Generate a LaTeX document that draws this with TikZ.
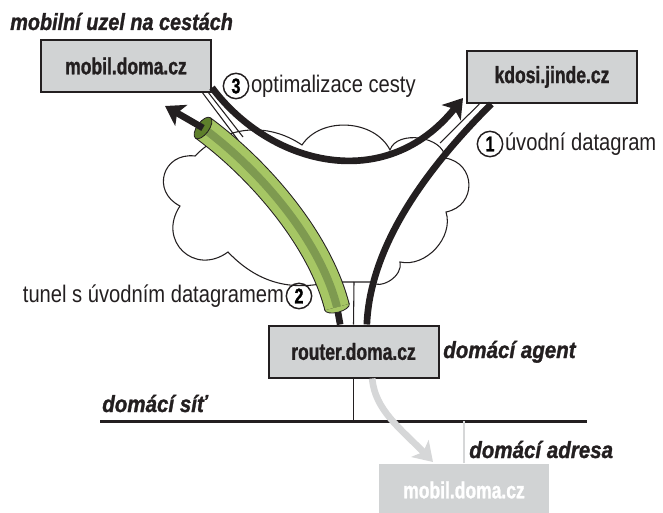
\documentclass[tikz,border=0pt]{standalone}
\usepackage{fontspec}
\setmainfont{Liberation Sans}
\newfontfamily\textcond[FakeStretch=0.84]{Liberation Sans}
\newfontfamily\hostcond[FakeStretch=0.75,FakeBold=1.2]{Liberation Sans}
\newfontfamily\titlecond[FakeStretch=0.85,FakeBold=1.2]{Liberation Sans}
\newfontfamily\labelcond[FakeStretch=0.88,FakeBold=1.2]{Liberation Sans}
\usetikzlibrary{positioning,arrows.meta,shapes.geometric}
\definecolor{boxgray}{HTML}{D1D3D4}
\definecolor{ink}{HTML}{231F20}
\definecolor{tubelight}{HTML}{A6C664}
\definecolor{tubedark}{HTML}{7E9A50}
\definecolor{tubeinner}{HTML}{5E7F2B}
\definecolor{ghostgray}{HTML}{D6D7D8}
\tikzset{
  host/.style={draw=ink, line width=1.5pt, fill=boxgray, text=ink, inner sep=0pt,
    minimum width=127.5pt, minimum height=39pt,
    font=\hostcond\bfseries\fontsize{17.5}{18}\selectfont},
  ghosthost/.style={host, draw=none, fill=boxgray, text=white},
  nadpis/.style={text=ink, inner sep=0pt, font=\labelcond\bfseries\itshape\fontsize{17.5}{18}\selectfont},
  popis/.style={text=ink, inner sep=0pt, font=\textcond\fontsize{18}{18}\selectfont},
  cislo/.style={circle, draw=ink, line width=1.1pt, inner sep=0pt, minimum size=19pt,
    font=\hostcond\bfseries\fontsize{16}{16}\selectfont},
  datagram/.style={ink, line width=5pt},
  hrot/.style={-{Stealth[length=14pt,width=18pt,inset=3.5pt]}},
  tenka/.style={ink, line width=0.8pt},
}
\begin{document}
\begin{tikzpicture}[x=0.75pt, y=-0.75pt]
  \useasboundingbox (0,0) rectangle (663,513);
  % oblak (internet)
  \draw[tenka, fill=white] (180,206) to[bend left=80, looseness=1.6] (195,156)
    to[bend left=40] (302,145) to[bend left=60] (390,150)
    to[bend left=80] (445,158) to[bend left=80, looseness=1.5] (446,212)
    to[bend left=60] (400,262) to[bend left=70] (370,282) -- (330,282)
    to[bend left=30] (228,252) to[bend left=80, looseness=1.6] (180,206) -- cycle;
  \coordinate (oblakM1) at (238,140);
  \coordinate (oblakM2) at (243,137);
  \coordinate (oblakK) at (440,143);
  \coordinate (oblakR) at (354,282);
  % uzly
  \node[host] (mobil) at (126,66) {mobil.doma.cz};
  \node[host] (kdosi) at (552,77) {kdosi.jinde.cz};
  \node[host] (router) at (353.5,351.5) {router.doma.cz};
  \node[ghosthost] (domov) at (464,490) {mobil.doma.cz};
  % popisky kurzivou
  \node[nadpis, font=\titlecond\bfseries\itshape\fontsize{17.5}{18}\selectfont,
    anchor=base west] (titul) at (10,30) {mobilní uzel na cestách};
  \node[nadpis, anchor=base west] (agent) at (443,358) {domácí agent};
  \node[nadpis, anchor=base west] (sit) at (102,412) {domácí síť};
  \node[nadpis, anchor=base west] (adresa) at (469,458) {domácí adresa};
  % pripojeni k oblaku a k siti
  \draw[tenka] ([xshift=-7pt]mobil.south east) -- (oblakM1);
  \draw[tenka] ([xshift=-2.5pt]mobil.south east) -- (oblakM2);
  \draw[tenka] ([xshift=10pt]kdosi.south west) -- (oblakK);
  \draw[tenka] (router.north) -- (oblakR);
  \coordinate (sitL) at (100,421);
  \coordinate (sitP) at (587,421);
  \draw[ink, line width=2.25pt] (sitL) -- (sitP);
  \draw[tenka] (router.south) -- (router.south |- sitL);
  \draw[ghostgray, line width=0.8pt] (domov.north) -- (domov.north |- sitL);
  % 1: uvodni datagram
  \draw[datagram] ([xshift=10pt]router.north) .. controls (370,250) and (420,175) .. ([xshift=19pt]kdosi.south west);
  % 3: optimalizace cesty
  \coordinate (hrot3) at (463,98);
  \draw[datagram, hrot] ([yshift=4pt]mobil.south east) .. controls (270,165) and (385,195) .. (hrot3);
  % 2: tunel
  \coordinate (tubebot) at (337,307);
  \coordinate (tubetop) at (203,128);
  \coordinate (hrot2) at (165,106);
  \draw[datagram] ([xshift=-10pt]router.north) -- (tubebot);
  \path (tubebot) .. controls (320,240) and (260,170) .. (tubetop)
    node[pos=0, sloped, ellipse, draw=ink, line width=0.6pt, fill=tubelight,
      minimum width=8pt, minimum height=19pt, inner sep=0pt] (capbot) {};
  \foreach \w/\c in {19.5pt/ink, 18pt/tubelight, 6pt/tubedark} {
    \draw[line width=\w, \c] (tubebot) .. controls (320,240) and (260,170) .. (tubetop);
  }
  \path (tubebot) .. controls (320,240) and (260,170) .. (tubetop)
    node[pos=1, sloped, ellipse, draw=ink, line width=0.6pt, fill=tubeinner,
      minimum width=9pt, minimum height=19pt, inner sep=0pt] (otvor) {};
  \draw[datagram, hrot] (otvor.center) -- (hrot2);
  % presun domu
  \coordinate (hrotD) at (433,462);
  \draw[ghostgray, line width=5pt, hrot] ([xshift=14pt]router.south) .. controls (375,410) and (400,428) .. (hrotD);
  % cisla kroku
  \node[cislo] (c3) at (236,86) {3};
  \node[popis, right=1pt of c3] (t3) {optimalizace cesty};
  \node[cislo] (c1) at (490,144) {1};
  \node[popis, right=1pt of c1] (t1) {úvodní datagram};
  \node[cislo] (c2) at (299,296) {2};
  \node[popis, left=1pt of c2] (t2) {tunel s úvodním datagramem};
\end{tikzpicture}
\end{document}
